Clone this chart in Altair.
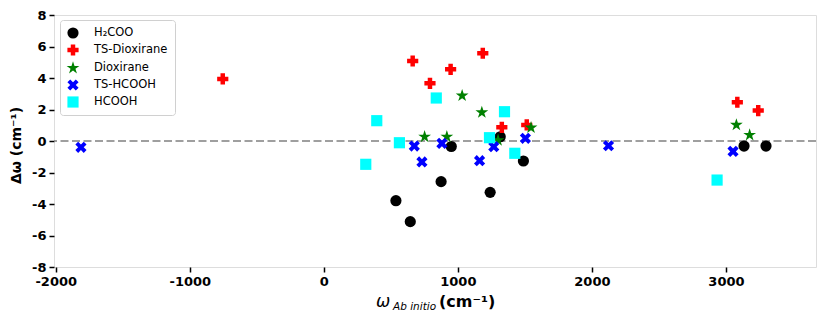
import altair as alt
import pandas as pd

series = ["H\u2082COO", "TS-Dioxirane", "Dioxirane", "TS-HCOOH", "HCOOH"]
colors = ["#000000", "#ff0000", "#008000", "#0000ff", "#00ffff"]

STAR = ("M0,-1.2L0.27,-0.371L1.141,-0.371L0.436,0.142L0.706,0.971L0,0.458"
        "L-0.706,0.971L-0.436,0.142L-1.141,-0.371L-0.27,-0.371Z")
XMARK = ("M-0.5,-1L0,-0.5L0.5,-1L1,-0.5L0.5,0L1,0.5L0.5,1L0,0.5L-0.5,1"
         "L-1,0.5L-0.5,0L-1,-0.5Z")
shapes = ["circle", "cross", STAR, XMARK, "square"]

h2coo_x = [538, 645, 875, 951, 1241, 1316, 1489, 3135, 3299]
h2coo_y = [-3.79, -5.12, -2.58, -0.35, -3.26, 0.27, -1.27, -0.32, -0.32]

tsdiox_x = [-754, 663, 792, 946, 1186, 1328, 1514, 3085, 3241]
tsdiox_y = [3.94, 5.08, 3.66, 4.55, 5.57, 0.87, 1.02, 2.46, 1.93]

diox_x = [752, 918, 1032, 1179, 1300, 1546, 3078, 3177]
diox_y = [0.27, 0.27, 2.88, 1.82, 0.05, 0.85, 1.02, 0.38]

tshcooh_x = [-1812, 675, 732, 881, 1162, 1268, 1504, 2124, 3053]
tshcooh_y = [-0.40, -0.32, -1.33, -0.15, -1.25, -0.36, 0.17, -0.30, -0.66]

hcooh_x = [313, 395, 564, 839, 1236, 1348, 1425, 2934]
hcooh_y = [-1.48, 1.29, -0.11, 2.73, 0.21, 1.86, -0.78, -2.48]

x_ticks = [-2000, -1000, 0, 1000, 2000, 3000]
y_ticks = [-8, -6, -4, -2, 0, 2, 4, 6, 8]

xs = [h2coo_x, tsdiox_x, diox_x, tshcooh_x, hcooh_x]
ys = [h2coo_y, tsdiox_y, diox_y, tshcooh_y, hcooh_y]

rows = []
order = 0
for name, xv, yv in zip(series, xs, ys):
    for a, b in zip(xv, yv):
        rows.append({"series": name, "x": a, "y": b, "o": order})
        order += 1
df = pd.DataFrame(rows)

xdom = [-2013, 3672]
ydom = [-8, 8]

axis_common = dict(labelFont="DejaVu Sans", labelFontWeight="bold",
                   labelFontSize=13, labelColor="black", labelPadding=3,
                   labelOverlap=False, labelExpr="'' + datum.value",
                   tickColor="black", tickWidth=1.5, tickSize=5,
                   domain=False, grid=False)

xscale = alt.Scale(domain=xdom, nice=False, zero=False)
yscale = alt.Scale(domain=ydom, nice=False)

yaxis = alt.Axis(values=y_ticks,
                 title="\u0394\u03c9 (cm\u207b\u00b9)",
                 titleFont="DejaVu Sans", titleFontWeight="bold",
                 titleFontSize=14, titleColor="black",
                 titleX=-38, titleY=130, titleAngle=270,
                 titleAlign="center", titleBaseline="middle",
                 **axis_common)

points = alt.Chart(df).mark_point(filled=True, size=125, opacity=1, strokeWidth=0).encode(
    x=alt.X("x:Q", scale=xscale,
            axis=alt.Axis(values=x_ticks, title=None, **axis_common)),
    y=alt.Y("y:Q", scale=yscale, axis=yaxis),
    color=alt.Color("series:N", scale=alt.Scale(domain=series, range=colors),
                    legend=alt.Legend(title=None, orient="none", legendX=6, legendY=5,
                                      labelFont="DejaVu Sans", labelFontSize=11.5,
                                      labelColor="black", symbolSize=125,
                                      symbolStrokeWidth=0, labelOffset=15,
                                      rowPadding=5, padding=7,
                                      strokeColor="#d0d0d0", cornerRadius=3,
                                      fillColor="white")),
    shape=alt.Shape("series:N", scale=alt.Scale(domain=series, range=shapes)),
    order=alt.Order("o:Q"),
)

zero_line = alt.Chart(pd.DataFrame({"y": [0]})).mark_rule(
    color="#808080", strokeWidth=1.6, strokeDash=[8, 3.5]
).encode(y=alt.Y("y:Q", scale=yscale, axis=yaxis))

t1 = alt.Chart(pd.DataFrame({"t": ["\u03c9"]})).mark_text(
    font="DejaVu Sans", fontStyle="italic", fontSize=17, align="left",
    baseline="alphabetic", color="black"
).encode(x=alt.value(322), y=alt.value(292), text="t:N")
t2 = alt.Chart(pd.DataFrame({"t": ["Ab initio"]})).mark_text(
    font="DejaVu Sans", fontStyle="italic", fontSize=10.5, align="left",
    baseline="alphabetic", color="black"
).encode(x=alt.value(339), y=alt.value(295), text="t:N")
t3 = alt.Chart(pd.DataFrame({"t": ["(cm\u207b\u00b9)"]})).mark_text(
    font="DejaVu Sans", fontWeight="bold", fontSize=16, align="left",
    baseline="alphabetic", color="black"
).encode(x=alt.value(385), y=alt.value(292), text="t:N")

chart = alt.layer(zero_line, points, t1, t2, t3).properties(
    width=762, height=252,
    autosize=alt.AutoSizeParams(type="none"),
    padding={"left": 46, "top": 7, "right": 5, "bottom": 45},
).configure_view(stroke="black", strokeWidth=2).configure(background="white")

chart.save("out.html", embed_options={"renderer": "svg", "actions": False})
